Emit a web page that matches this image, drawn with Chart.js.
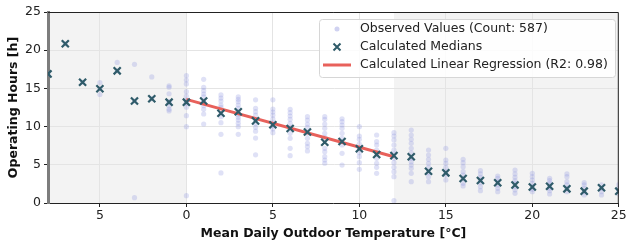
<!DOCTYPE html>
<html>
<head>
<meta charset="utf-8">
<script src="https://cdn.jsdelivr.net/npm/chart.js@4/dist/chart.umd.min.js"></script>
<style>
  html, body { margin: 0; padding: 0; background: #fff; }
  #wrap { width: 626px; height: 244px; }
</style>
</head>
<body>
<div id="wrap"><canvas id="chart" width="626" height="244"></canvas></div>
<script>
// temperatures (°C) and the median operating hours per temperature
const temps = [-8, -7, -6, -5, -4, -3, -2, -1, 0, 1, 2, 3, 4, 5, 6, 7, 8, 9, 10, 11, 12,
  13, 14, 15, 16, 17, 18, 19, 20, 21, 22, 23, 24, 25];
const medians = [16.9, 20.85, 15.8, 14.95, 17.3, 13.35, 13.65, 13.2, 13.2, 13.35, 11.75, 11.95,
  10.75, 10.25, 9.75, 9.3, 7.95, 8.05, 7.1, 6.35, 6.2, 6.05, 4.15, 3.95, 3.2, 2.95, 2.65,
  2.35, 2.1, 2.2, 1.85, 1.55, 2.0, 1.55];

// observed values, one list per temperature (same order as temps)
const observed = [
  [16.9],
  [20.85],
  [15.8],
  [15.75, 14.95, 14.2],
  [18.4, 17.3],
  [18.15, 13.35, 0.7],
  [16.5, 13.65],
  [15.35, 15.15, 14.3, 13.26, 13.2, 12.7, 12.26, 12.04],
  [16.66, 16.1, 15.58, 14.57, 14.0, 13.48, 13.2, 13.05, 12.53, 11.43, 9.99, 0.96],
  [16.19, 15.14, 14.7, 14.27, 13.91, 13.35, 13.13, 12.73, 12.26, 11.65, 10.34],
  [14.14, 13.74, 13.35, 12.83, 12.52, 11.78, 11.3, 10.51, 8.99, 3.93],
  [13.91, 13.57, 13.26, 12.83, 12.39, 11.95, 11.52, 11.21, 10.86, 10.43, 9.99, 8.99],
  [13.5, 12.4, 11.95, 11.5, 10.9, 10.4, 9.9, 9.4, 8.5, 6.3],
  [13.5, 12.3, 11.9, 11.5, 11.0, 10.5, 10.1, 9.7, 9.2],
  [12.26, 11.82, 11.39, 10.95, 10.43, 9.9, 9.12, 8.47, 7.16, 6.19],
  [11.3, 10.86, 10.34, 9.9, 9.12, 8.47, 7.81, 7.37, 6.81],
  [11.3, 10.95, 10.34, 9.77, 9.12, 8.6, 7.16, 6.72, 6.06, 5.63, 5.2],
  [11.03, 10.64, 10.21, 9.77, 9.12, 8.47, 7.59, 6.5, 4.97],
  [9.99, 8.77, 8.34, 7.72, 7.16, 6.58, 6.06, 5.28, 4.41],
  [8.9, 8.03, 7.59, 6.94, 6.41, 5.85, 5.2, 4.67, 3.89],
  [9.2, 8.77, 8.25, 7.59, 6.94, 6.41, 5.85, 5.28, 4.67, 4.1, 3.44, 0.3],
  [9.55, 8.9, 8.34, 7.81, 7.16, 6.58, 5.85, 5.41, 4.97, 4.54, 3.89, 2.79],
  [6.94, 6.28, 5.72, 5.2, 4.67, 3.97, 3.44, 2.79],
  [7.16, 5.63, 5.2, 4.67, 4.1, 3.66, 3.01],
  [5.72, 5.28, 4.75, 4.1, 3.66, 3.23, 2.58, 2.23],
  [4.23, 3.8, 3.36, 3.01, 2.66, 2.14, 1.61],
  [3.53, 3.23, 2.79, 2.36, 1.92, 1.48],
  [4.32, 3.8, 3.36, 2.92, 2.58, 2.14, 1.7, 1.27],
  [3.89, 3.44, 3.01, 2.58, 2.14, 1.79, 1.48],
  [3.23, 2.92, 2.58, 2.23, 1.92, 1.61, 1.18],
  [3.8, 3.44, 2.79, 2.36, 1.92, 1.48],
  [2.66, 2.36, 1.92, 1.48, 1.05],
  [2.36, 1.92, 1.48, 1.05],
  [2.4, 1.9, 1.5, 1.2]
];

// regression line end points
const regX = [0, 12];
const regY = [13.57, 6.06];

// shaded temperature ranges
const shadedRanges = [[-8, 0], [12, 25]];

const xTicks = [-5, 0, 5, 10, 15, 20, 25];
const yTicks = [0, 5, 10, 15, 20, 25];

const legendItems = [
  'Observed Values (Count: 587)',
  'Calculated Medians',
  'Calculated Linear Regression (R2: 0.98)'
];

const FONT = "'DejaVu Sans', sans-serif";
const FS = 12.5;
const dotColor = 'rgba(150,155,225,0.3)';
const medianColor = '#2f5b69';
const regColor = '#e8615b';

const obsPoints = [];
observed.forEach((vals, i) => vals.forEach(v => obsPoints.push({ x: temps[i], y: v })));

const shadePlugin = {
  id: 'shade',
  beforeDraw(chart) {
    const { ctx, chartArea: a, scales: { x } } = chart;
    ctx.save();
    ctx.fillStyle = '#f3f3f3';
    shadedRanges.forEach(([from, to]) => {
      const l = x.getPixelForValue(from), r = x.getPixelForValue(to);
      ctx.fillRect(l, a.top, r - l, a.bottom - a.top);
    });
    ctx.restore();
  },
  afterDraw(chart) {
    const { ctx, chartArea: a } = chart;
    ctx.save();
    // top and right spines
    ctx.strokeStyle = '#222';
    ctx.lineWidth = 1;
    ctx.beginPath();
    ctx.moveTo(a.left, a.top + 0.5);
    ctx.lineTo(a.right - 0.5, a.top + 0.5);
    ctx.lineTo(a.right - 0.5, a.bottom);
    ctx.stroke();

    // legend box
    const bx = 319, by = 19, bw = 296, bh = 58;
    ctx.fillStyle = 'rgba(255,255,255,0.85)';
    ctx.strokeStyle = '#d6d6d6';
    ctx.beginPath();
    ctx.roundRect(bx + 0.5, by + 0.5, bw, bh, 3);
    ctx.fill();
    ctx.stroke();

    const rows = [29, 47, 65];
    // dot
    ctx.fillStyle = 'rgba(150,155,225,0.45)';
    ctx.beginPath();
    ctx.arc(337, rows[0], 2.5, 0, Math.PI * 2);
    ctx.fill();
    // cross
    ctx.strokeStyle = medianColor;
    ctx.lineWidth = 2;
    ctx.beginPath();
    ctx.moveTo(333.5, rows[1] - 3.5); ctx.lineTo(340.5, rows[1] + 3.5);
    ctx.moveTo(340.5, rows[1] - 3.5); ctx.lineTo(333.5, rows[1] + 3.5);
    ctx.stroke();
    // line
    ctx.strokeStyle = regColor;
    ctx.lineWidth = 3;
    ctx.beginPath();
    ctx.moveTo(323, rows[2]); ctx.lineTo(351, rows[2]);
    ctx.stroke();

    ctx.fillStyle = '#222';
    ctx.font = FS + 'px ' + FONT;
    ctx.textBaseline = 'middle';
    legendItems.forEach((t, i) => ctx.fillText(t, 360, rows[i]));
    ctx.restore();
  }
};

new Chart(document.getElementById('chart'), {
  data: {
    datasets: [
      {
        type: 'scatter',
        label: legendItems[0],
        data: obsPoints,
        backgroundColor: dotColor,
        borderWidth: 0,
        pointRadius: 2.6,
        order: 3
      },
      {
        type: 'line',
        label: legendItems[2],
        data: regX.map((x, i) => ({ x, y: regY[i] })),
        borderColor: regColor,
        borderWidth: 3,
        pointRadius: 0,
        fill: false,
        order: 2
      },
      {
        type: 'scatter',
        label: legendItems[1],
        data: temps.map((x, i) => ({ x, y: medians[i] })),
        pointStyle: 'crossRot',
        pointRadius: 5,
        borderColor: medianColor,
        borderWidth: 2.2,
        order: 1
      }
    ]
  },
  options: {
    responsive: false,
    animation: false,
    layout: { padding: { top: 12, right: 5, left: 0, bottom: 0 } },
    plugins: {
      legend: { display: false },
      tooltip: { enabled: false }
    },
    scales: {
      x: {
        type: 'linear',
        min: -8,
        max: 25,
        afterBuildTicks: s => { s.ticks = xTicks.map(v => ({ value: v })); },
        afterFit: s => { s.height = 41; s.paddingLeft = 0; s.paddingRight = 0; },
        ticks: {
          color: '#222',
          font: { family: FONT, size: FS },
          padding: 1,
          maxRotation: 0,
          // the reference prints the negative tick without its minus sign
          callback: v => String(Math.abs(v))
        },
        grid: { color: '#e4e4e4', tickColor: '#222', tickLength: 4 },
        border: { color: '#222', width: 1 },
        title: {
          display: true,
          text: 'Mean Daily Outdoor Temperature [°C]',
          color: '#111',
          font: { family: FONT, size: FS, weight: 'bold' },
          padding: { top: 0, bottom: 3 }
        }
      },
      y: {
        type: 'linear',
        min: 0,
        max: 25,
        afterBuildTicks: s => { s.ticks = yTicks.map(v => ({ value: v })); },
        afterFit: s => { s.width = 48; s.paddingTop = 0; s.paddingBottom = 0; },
        ticks: {
          color: '#222',
          font: { family: FONT, size: FS },
          padding: 3
        },
        grid: { color: '#e4e4e4', tickColor: '#222', tickLength: 4 },
        border: { color: '#7d7d7d', width: 3 },
        title: {
          display: true,
          text: 'Operating Hours [h]',
          color: '#111',
          font: { family: FONT, size: FS, weight: 'bold' },
          padding: { top: 6, bottom: 0 }
        }
      }
    }
  },
  plugins: [shadePlugin]
});
</script>
</body>
</html>
